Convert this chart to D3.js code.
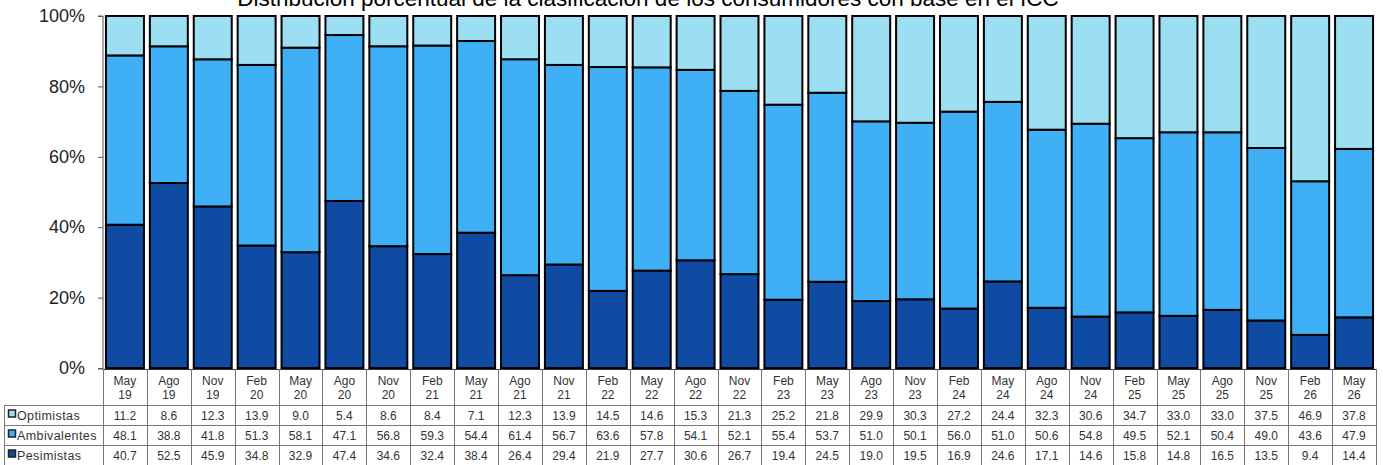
<!DOCTYPE html>
<html>
<head>
<meta charset="utf-8">
<script src="https://cdn.jsdelivr.net/npm/d3@7"></script>
<style>
  body { margin: 0; background: #fff; }
  text { font-family: "Liberation Sans", Arial, sans-serif; }
</style>
</head>
<body>
<div id="chart"></div>
<script>
// periods (month / year)
var months = ["May","Ago","Nov","Feb","May","Ago","Nov","Feb","May","Ago","Nov","Feb","May","Ago","Nov",
              "Feb","May","Ago","Nov","Feb","May","Ago","Nov","Feb","May","Ago","Nov","Feb","May"]
var years = ["19","19","19","20","20","20","20","21","21","21","21","22","22","22","22",
             "23","23","23","23","24","24","24","24","25","25","25","25","26","26"]

var optimistas = [11.2, 8.6, 12.3, 13.9, 9.0, 5.4, 8.6, 8.4, 7.1, 12.3, 13.9, 14.5, 14.6, 15.3, 21.3,
                  25.2, 21.8, 29.9, 30.3, 27.2, 24.4, 32.3, 30.6, 34.7, 33.0, 33.0, 37.5, 46.9, 37.8]
var ambivalentes = [48.1, 38.8, 41.8, 51.3, 58.1, 47.1, 56.8, 59.3, 54.4, 61.4, 56.7, 63.6, 57.8, 54.1, 52.1,
                    55.4, 53.7, 51.0, 50.1, 56.0, 51.0, 50.6, 54.8, 49.5, 52.1, 50.4, 49.0, 43.6, 47.9]
var pesimistas = [40.7, 52.5, 45.9, 34.8, 32.9, 47.4, 34.6, 32.4, 38.4, 26.4, 29.4, 21.9, 27.7, 30.6, 26.7,
                  19.4, 24.5, 19.0, 19.5, 16.9, 24.6, 17.1, 14.6, 15.8, 14.8, 16.5, 13.5, 9.4, 14.4]

var seriesNames = ["Pesimistas", "Ambivalentes", "Optimistas"]   // stack order, bottom first
var tableRows = ["Optimistas", "Ambivalentes", "Pesimistas"]     // table order
var yTicks = [0, 0.2, 0.4, 0.6, 0.8, 1]

var title = "Distribución porcentual de la clasificación de los consumidores con base en el ICC"

var width = 1383, height = 465
var plotLeft = 103, plotRight = 1376, plotTop = 16, plotBottom = 368

var color = d3.scaleOrdinal()
  .domain(seriesNames)
  .range(["#0f4aa3", "#40b0f6", "#9cdff2"])

var table = months.map(function(m, i) {
  return {
    key: i,
    Pesimistas: pesimistas[i],
    Ambivalentes: ambivalentes[i],
    Optimistas: optimistas[i]
  }
})

var stacked = d3.stack()
  .keys(seriesNames)
  .offset(d3.stackOffsetExpand)(table)

var x = d3.scaleBand()
  .domain(d3.range(months.length))
  .range([plotLeft, plotRight])
  .paddingInner(0.135)
  .paddingOuter(0.0675)

var y = d3.scaleLinear().domain([0, 1]).range([plotBottom, plotTop])

var svg = d3.select("#chart").append("svg")
  .attr("width", width)
  .attr("height", height)

// title (sits partly above the frame, as in the source)
svg.append("text")
  .attr("x", 648)
  .attr("y", 6)
  .attr("text-anchor", "middle")
  .style("font-size", "22.5px")
  .style("fill", "#000")
  .text(title)

// bars
svg.selectAll(".serie")
  .data(stacked)
  .enter().append("g")
    .attr("class", "serie")
    .attr("fill", function(d) { return color(d.key) })
  .selectAll("rect")
  .data(function(d) { return d })
  .enter().append("rect")
    .attr("x", function(d) { return x(d.data.key) })
    .attr("width", x.bandwidth())
    .attr("y", function(d) { return y(d[1]) })
    .attr("height", function(d) { return y(d[0]) - y(d[1]) })
    .attr("stroke", "#000")
    .attr("stroke-width", 2)

// y axis
var yAxis = d3.axisLeft(y)
  .tickValues(yTicks)
  .tickSize(5)
  .tickPadding(13)
  .tickFormat(d3.format(".0%"))

var gy = svg.append("g")
  .attr("transform", "translate(" + plotLeft + ",0)")
  .call(yAxis)
gy.select(".domain").attr("stroke", "#555").attr("d", "M-5," + plotTop + "H0V" + (plotBottom + 1) + "H-5")
gy.selectAll(".tick line").attr("stroke", "#555")
gy.selectAll(".tick text")
  .style("font-size", "18px")
  .style("font-family", "'Liberation Sans', Arial, sans-serif")
  .attr("fill", "#222")

// data table under the chart
var headTop = 369, headBottom = 405, rowH = 20, tableLeft = 4
var step = x.step()
var colEdge = function(i) { return plotLeft + i * step }
var grid = svg.append("g").attr("stroke", "#777").attr("stroke-width", 1).attr("fill", "none")

grid.append("line").attr("x1", plotLeft).attr("x2", plotRight + 1)
  .attr("y1", headTop + 0.5).attr("y2", headTop + 0.5).attr("stroke", "#333")
for (var r = 0; r <= tableRows.length; r++) {
  var yy = headBottom + r * rowH + 0.5
  grid.append("line").attr("x1", tableLeft).attr("x2", plotRight + 1).attr("y1", yy).attr("y2", yy)
}
grid.append("line").attr("x1", tableLeft + 0.5).attr("x2", tableLeft + 0.5)
  .attr("y1", headBottom).attr("y2", height)
for (var c = 0; c <= months.length; c++) {
  var xx = Math.round(colEdge(c)) + 0.5
  grid.append("line").attr("x1", xx).attr("x2", xx).attr("y1", headTop).attr("y2", height)
}

var head = svg.append("g").selectAll("g")
  .data(months)
  .enter().append("g")
    .attr("transform", function(d, i) { return "translate(" + (colEdge(i) + step / 2) + ",0)" })
head.append("text")
  .attr("y", 385).attr("text-anchor", "middle")
  .style("font-size", "12px").attr("fill", "#333")
  .text(function(d) { return d })
head.append("text")
  .attr("y", 399).attr("text-anchor", "middle")
  .style("font-size", "12px").attr("fill", "#333")
  .text(function(d, i) { return years[i] })

var rowValues = { Optimistas: optimistas, Ambivalentes: ambivalentes, Pesimistas: pesimistas }

tableRows.forEach(function(name, r) {
  var cy = headBottom + r * rowH + rowH / 2 + 4.5
  var g = svg.append("g")
  g.append("rect")
    .attr("x", tableLeft + 4.5).attr("y", cy - 9.5)
    .attr("width", 7).attr("height", 7)
    .attr("fill", color(name)).attr("stroke", "#222").attr("stroke-width", 1.5)
  g.append("text")
    .attr("x", tableLeft + 13).attr("y", cy)
    .style("font-size", "12.5px").style("letter-spacing", "0.4px").attr("fill", "#333")
    .text(name)
  g.selectAll(".val")
    .data(rowValues[name])
    .enter().append("text")
      .attr("class", "val")
      .attr("x", function(d, i) { return colEdge(i) + step / 2 })
      .attr("y", cy)
      .attr("text-anchor", "middle")
      .style("font-size", "12px").attr("fill", "#333")
      .text(function(d) { return d3.format(".1f")(d) })
})
</script>
</body>
</html>
